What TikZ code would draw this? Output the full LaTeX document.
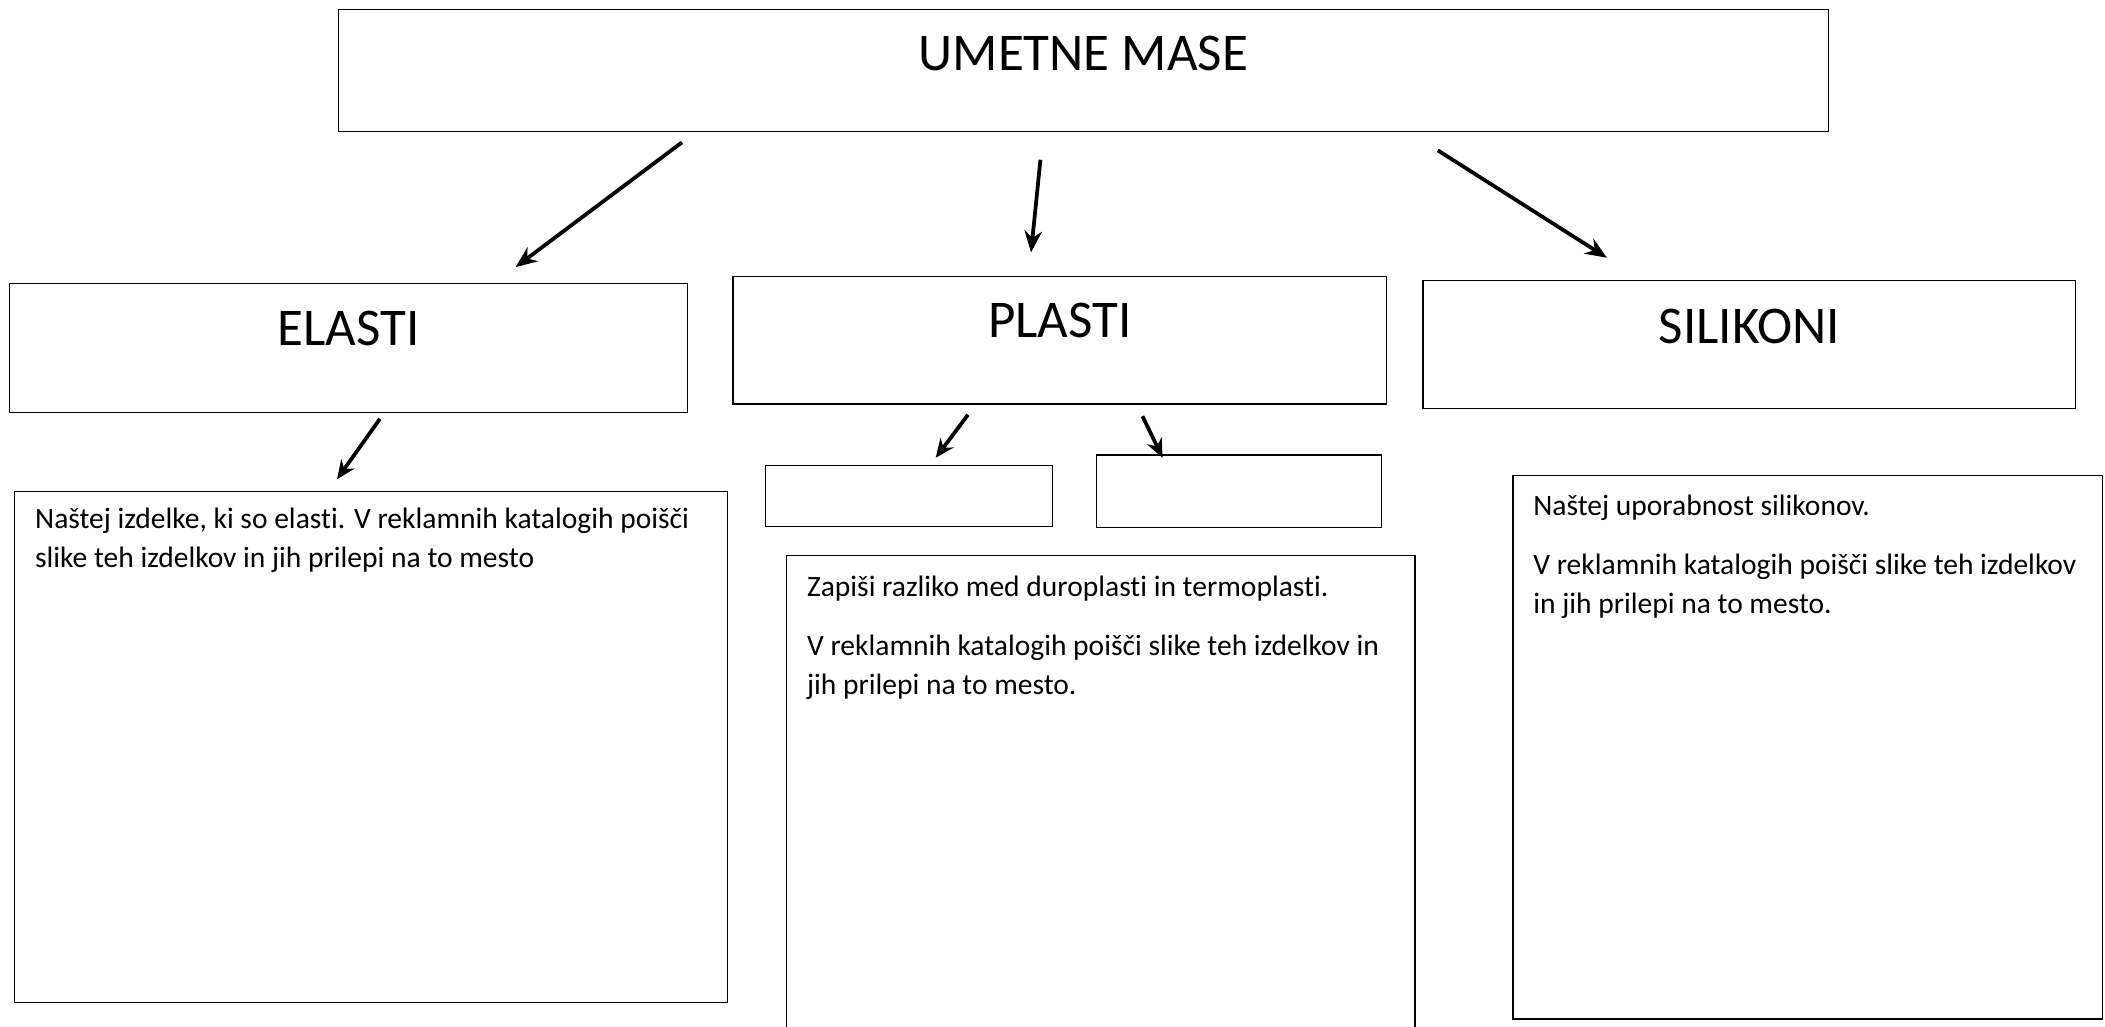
\documentclass[tikz,border=0pt]{standalone}
\usepackage{fontspec}
\setmainfont{Carlito}[Ligatures=NoCommon]
\usetikzlibrary{arrows.meta,calc}
\begin{document}
\begin{tikzpicture}[x=1pt,y=-1pt,
  box/.style={draw,line width=0.9pt,inner sep=0pt,outer sep=0pt,anchor=north west},
  head/.style={font=\fontsize{39.5}{47}\selectfont,anchor=base,inner sep=0pt},
  body/.style={font=\fontsize{22}{29}\selectfont,anchor=base west,inner sep=0pt},
  arr/.style={line width=2.8pt,-{Stealth[length=16pt,width=13pt]}},
  sarr/.style={line width=2.8pt,-{Stealth[length=14pt,width=12pt]}}]
\useasboundingbox (0,0) rectangle (1568,765);
% boxes
\node[box,minimum width=1110pt,minimum height=91pt] (top) at (252,7) {};
\node[box,minimum width=505pt,minimum height=96pt] (elasti) at (7,211) {};
\node[box,minimum width=487pt,minimum height=95pt] (plasti) at (546,206) {};
\node[box,minimum width=486pt,minimum height=95pt] (silikoni) at (1060,209) {};
\node[box,minimum width=214pt,minimum height=45pt] (duro) at (570,347) {};
\node[box,minimum width=212pt,minimum height=54pt] (termo) at (817,339) {};
\node[box,minimum width=531pt,minimum height=381pt] (elastitext) at (11,366) {};
\node[box,minimum width=468pt,minimum height=370pt] (plastitext) at (586,414) {};
\node[box,minimum width=439pt,minimum height=405pt] (silikonitext) at (1127,354) {};
% headings
\node[head] (h0) at ($(top.north)+(0,45.5)$) {UMETNE MASE};
\node[head] (h1) at ($(elasti.north)+(0,46.5)$) {ELASTI};
\node[head] (h2) at ($(plasti.north)+(0,45.5)$) {PLASTI};
\node[head] (h3) at ($(silikoni.north)+(0,46.5)$) {SILIKONI};
% body texts
\node[body] (e1) at ($(elastitext.north west)+(15,28)$) {Naštej izdelke, ki so elasti. V reklamnih katalogih poišči};
\node[body] (e2) at ($(elastitext.north west)+(15,57)$) {slike teh izdelkov in jih prilepi na to mesto};
\node[body] (p1) at ($(plastitext.north west)+(15,30)$) {Zapiši razliko med duroplasti in termoplasti.};
\node[body] (p2) at ($(plastitext.north west)+(15,74)$) {V reklamnih katalogih poišči slike teh izdelkov in};
\node[body] (p3) at ($(plastitext.north west)+(15,103)$) {jih prilepi na to mesto.};
\node[body] (s1) at ($(silikonitext.north west)+(15,30)$) {Naštej uporabnost silikonov.};
\node[body] (s2) at ($(silikonitext.north west)+(15,74)$) {V reklamnih katalogih poišči slike teh izdelkov};
\node[body] (s3) at ($(silikonitext.north west)+(15,103)$) {in jih prilepi na to mesto.};
% arrows
\draw[arr] ($(top.south west)+(256,8)$) -- ($(elasti.north west)+(377,-12)$);
\draw[arr] ($(top.south west)+(523,21)$) -- ($(plasti.north west)+(222,-18)$);
\draw[arr] ($(top.south west)+(819,14)$) -- ($(silikoni.north west)+(137,-17)$);
\draw[sarr] ($(elasti.south west)+(276,5)$) -- ($(elastitext.north west)+(240,-9)$);
\draw[sarr] ($(plasti.south west)+(175,8)$) -- ($(duro.north west)+(127,-6)$);
\draw[sarr] ($(plasti.south west)+(305,9)$) -- ($(termo.north west)+(49,2)$);
\end{tikzpicture}
\end{document}
